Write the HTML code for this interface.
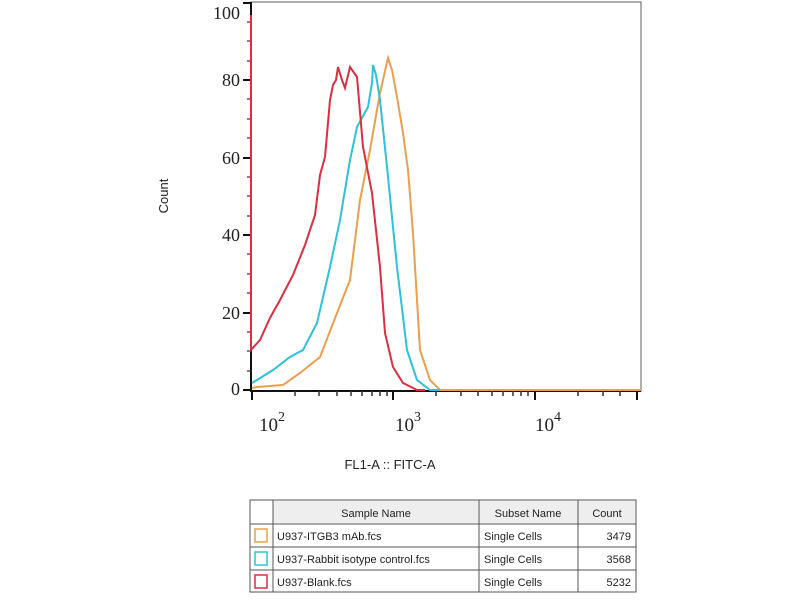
<!DOCTYPE html>
<html><head><meta charset="utf-8"><style>
body{margin:0;background:#fff;width:800px;height:600px;overflow:hidden}
</style></head><body>
<svg width="800" height="600" xmlns="http://www.w3.org/2000/svg">
<rect width="800" height="600" fill="#fff"/>
<!-- plot frame -->
<rect x="251" y="2" width="390" height="389" fill="none" stroke="#777" stroke-width="1.2"/>
<line x1="251" y1="2" x2="251" y2="392" stroke="#111" stroke-width="2"/>
<line x1="250" y1="391" x2="641" y2="391" stroke="#111" stroke-width="2"/>
<g stroke="#111" stroke-width="2">
<line x1="243" y1="3" x2="251" y2="3"/><line x1="243" y1="80" x2="251" y2="80"/>
<line x1="243" y1="158" x2="251" y2="158"/><line x1="243" y1="235" x2="251" y2="235"/>
<line x1="243" y1="313" x2="251" y2="313"/><line x1="243" y1="390" x2="251" y2="390"/>
</g>
<g stroke="#333" stroke-width="1.2">
<line x1="247" y1="22" x2="251" y2="22"/><line x1="247" y1="41" x2="251" y2="41"/><line x1="247" y1="61" x2="251" y2="61"/>
<line x1="247" y1="99" x2="251" y2="99"/><line x1="247" y1="119" x2="251" y2="119"/><line x1="247" y1="138" x2="251" y2="138"/>
<line x1="247" y1="177" x2="251" y2="177"/><line x1="247" y1="196" x2="251" y2="196"/><line x1="247" y1="216" x2="251" y2="216"/>
<line x1="247" y1="254" x2="251" y2="254"/><line x1="247" y1="274" x2="251" y2="274"/><line x1="247" y1="293" x2="251" y2="293"/>
<line x1="247" y1="332" x2="251" y2="332"/><line x1="247" y1="351" x2="251" y2="351"/><line x1="247" y1="371" x2="251" y2="371"/>
</g>
<g stroke="#111" stroke-width="2">
<line x1="252" y1="391" x2="252" y2="400"/><line x1="393" y1="391" x2="393" y2="400"/>
<line x1="535" y1="391" x2="535" y2="400"/><line x1="637" y1="391" x2="637" y2="400"/>
</g>
<g stroke="#333" stroke-width="1.5">
<line x1="295" y1="391" x2="295" y2="396"/><line x1="319" y1="391" x2="319" y2="396"/><line x1="337" y1="391" x2="337" y2="396"/>
<line x1="351" y1="391" x2="351" y2="396"/><line x1="362" y1="391" x2="362" y2="396"/><line x1="372" y1="391" x2="372" y2="396"/>
<line x1="380" y1="391" x2="380" y2="396"/><line x1="387" y1="391" x2="387" y2="396"/>
<line x1="436" y1="391" x2="436" y2="396"/><line x1="461" y1="391" x2="461" y2="396"/><line x1="478" y1="391" x2="478" y2="396"/>
<line x1="492" y1="391" x2="492" y2="396"/><line x1="503" y1="391" x2="503" y2="396"/><line x1="513" y1="391" x2="513" y2="396"/>
<line x1="521" y1="391" x2="521" y2="396"/><line x1="528" y1="391" x2="528" y2="396"/>
<line x1="578" y1="391" x2="578" y2="396"/><line x1="603" y1="391" x2="603" y2="396"/><line x1="620" y1="391" x2="620" y2="396"/>
</g>
<g font-family="Liberation Serif, serif" font-size="18" fill="#222" text-anchor="end">
<text x="240" y="19">100</text><text x="240" y="86">80</text><text x="240" y="164">60</text>
<text x="240" y="241">40</text><text x="240" y="319">20</text><text x="240" y="395">0</text>
</g>
<g font-family="Liberation Serif, serif" font-size="19" fill="#222">
<text x="259" y="431">10<tspan font-size="14" dy="-10">2</tspan></text>
<text x="395" y="431">10<tspan font-size="14" dy="-10">3</tspan></text>
<text x="535" y="431">10<tspan font-size="14" dy="-10">4</tspan></text>
</g>
<text x="390" y="469" font-family="Liberation Sans, sans-serif" font-size="13" fill="#222" text-anchor="middle">FL1-A :: FITC-A</text>
<text transform="translate(168,196) rotate(-90)" font-family="Liberation Sans, sans-serif" font-size="13" fill="#222" text-anchor="middle">Count</text>
<!-- curves -->
<polyline fill="none" stroke="#e8a050" stroke-width="2" points="252,388 257,387 270,386 283,385 300,373 320,357 337,313 350,280 360,200 370,150 380,93 388,58 392,70 397,97 403,133 408,170 413,233 420,350 430,380 440,390 641,390"/>
<polyline fill="none" stroke="#30c0d8" stroke-width="2" points="252,383 257,380 273,370 290,357 303,350 317,323 330,267 340,220 350,160 357,127 368,107 372,83 373,65 376,75 380,100 387,167 397,267 407,350 417,380 430,390 440,390"/>
<polyline fill="none" stroke="#d83040" stroke-width="2" points="251,15 251,350 260,340 270,318 280,300 293,275 305,245 315,215 320,175 325,157 330,100 333,85 336,80 338,67 342,80 345,88 350,67 357,77 363,147 372,193 380,267 385,333 393,367 403,383 417,390 425,390"/>
<!-- legend table -->
<g font-family="Liberation Sans, sans-serif" font-size="11" fill="#222">
<rect x="250" y="500" width="386" height="92" fill="#fff" stroke="#555"/>
<rect x="273" y="501" width="362" height="22" fill="#eee"/>
<line x1="250" y1="524" x2="636" y2="524" stroke="#555"/>
<line x1="250" y1="547" x2="636" y2="547" stroke="#555"/>
<line x1="250" y1="570" x2="636" y2="570" stroke="#555"/>
<line x1="273" y1="500" x2="273" y2="592" stroke="#555"/>
<line x1="479" y1="500" x2="479" y2="592" stroke="#555"/>
<line x1="578" y1="500" x2="578" y2="592" stroke="#555"/>
<text x="376" y="517" text-anchor="middle">Sample Name</text>
<text x="528" y="517" text-anchor="middle">Subset Name</text>
<text x="607" y="517" text-anchor="middle">Count</text>
<rect x="255" y="529" width="12" height="13" fill="none" stroke="#e8a050" stroke-width="1.5"/>
<rect x="255" y="552" width="12" height="13" fill="none" stroke="#30c0d8" stroke-width="1.5"/>
<rect x="255" y="575" width="12" height="13" fill="none" stroke="#d83040" stroke-width="1.5"/>
<text x="277" y="540">U937-ITGB3 mAb.fcs</text>
<text x="277" y="563">U937-Rabbit isotype control.fcs</text>
<text x="277" y="586">U937-Blank.fcs</text>
<text x="484" y="540">Single Cells</text>
<text x="484" y="563">Single Cells</text>
<text x="484" y="586">Single Cells</text>
<text x="631" y="540" text-anchor="end">3479</text>
<text x="631" y="563" text-anchor="end">3568</text>
<text x="631" y="586" text-anchor="end">5232</text>
</g>
</svg>
</body></html>
